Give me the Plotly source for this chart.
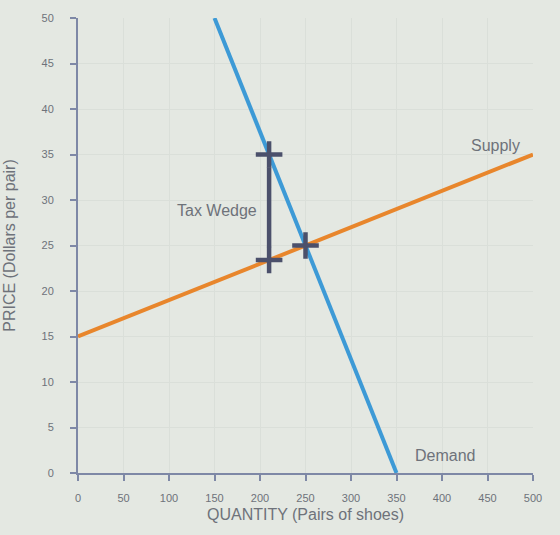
import plotly.graph_objects as go

# Data
supply_q = [0, 500]
supply_p = [15, 35]
demand_q = [150, 350]
demand_p = [50, 0]
wedge_q = [210, 210]
wedge_p = [23.4, 35]
eq_q = [250]
eq_p = [25]
x_ticks = [0, 50, 100, 150, 200, 250, 300, 350, 400, 450, 500]
y_ticks = [0, 5, 10, 15, 20, 25, 30, 35, 40, 45, 50]

axis_col = "#7e88a6"
txt_col = "#6e727a"
mark_col = "#4b506b"
bg = "#e4e8e2"

fig = go.Figure()
fig.add_trace(go.Scatter(x=supply_q, y=supply_p, mode="lines",
                         line=dict(color="#e8862c", width=4), hoverinfo="skip"))
fig.add_trace(go.Scatter(x=demand_q, y=demand_p, mode="lines",
                         line=dict(color="#3d9ad6", width=4), hoverinfo="skip"))
fig.add_trace(go.Scatter(x=wedge_q, y=[wedge_p[0] + 1.4, wedge_p[1] - 1.4], mode="lines",
                         line=dict(color=mark_col, width=4.5), hoverinfo="skip"))
fig.add_trace(go.Scatter(x=wedge_q + eq_q, y=wedge_p + eq_p, mode="markers",
                         marker=dict(symbol="cross-thin", size=19,
                                     line=dict(color=mark_col, width=4.5)),
                         hoverinfo="skip"))

fig.add_annotation(x=459, y=36.0, text="Supply", showarrow=False,
                   font=dict(size=16, color=txt_col), xanchor="center")
fig.add_annotation(x=403, y=1.9, text="Demand", showarrow=False,
                   font=dict(size=16, color=txt_col), xanchor="center")
fig.add_annotation(x=153, y=28.9, text="Tax Wedge", showarrow=False,
                   font=dict(size=16, color=txt_col), xanchor="center")

fig.update_layout(
    width=560, height=535,
    margin=dict(l=78, r=27, t=18, b=62),
    paper_bgcolor=bg, plot_bgcolor=bg,
    showlegend=False,
    font=dict(family="Liberation Sans, Arial, sans-serif", color=txt_col, size=11),
    xaxis=dict(range=[0, 500], tickvals=x_ticks, showgrid=True,
               gridcolor="#dadfd9", zeroline=False, showline=True,
               linecolor=axis_col, linewidth=2, ticks="outside", ticklen=6,
               tickcolor=axis_col, tickwidth=2, ticklabelstandoff=8,
               automargin=False,
               title=dict(text="QUANTITY (Pairs of shoes)", font=dict(size=16, color=txt_col),
                          standoff=6)),
    yaxis=dict(range=[0, 50], tickvals=y_ticks, showgrid=True,
               gridcolor="#dadfd9", zeroline=False, showline=True,
               linecolor=axis_col, linewidth=2, ticks="outside", ticklen=6,
               tickcolor=axis_col, tickwidth=2, ticklabelstandoff=14,
               automargin=False,
               title=dict(text="PRICE (Dollars per pair)", font=dict(size=16, color=txt_col),
                          standoff=22)),
)

fig.write_html("out.html")
